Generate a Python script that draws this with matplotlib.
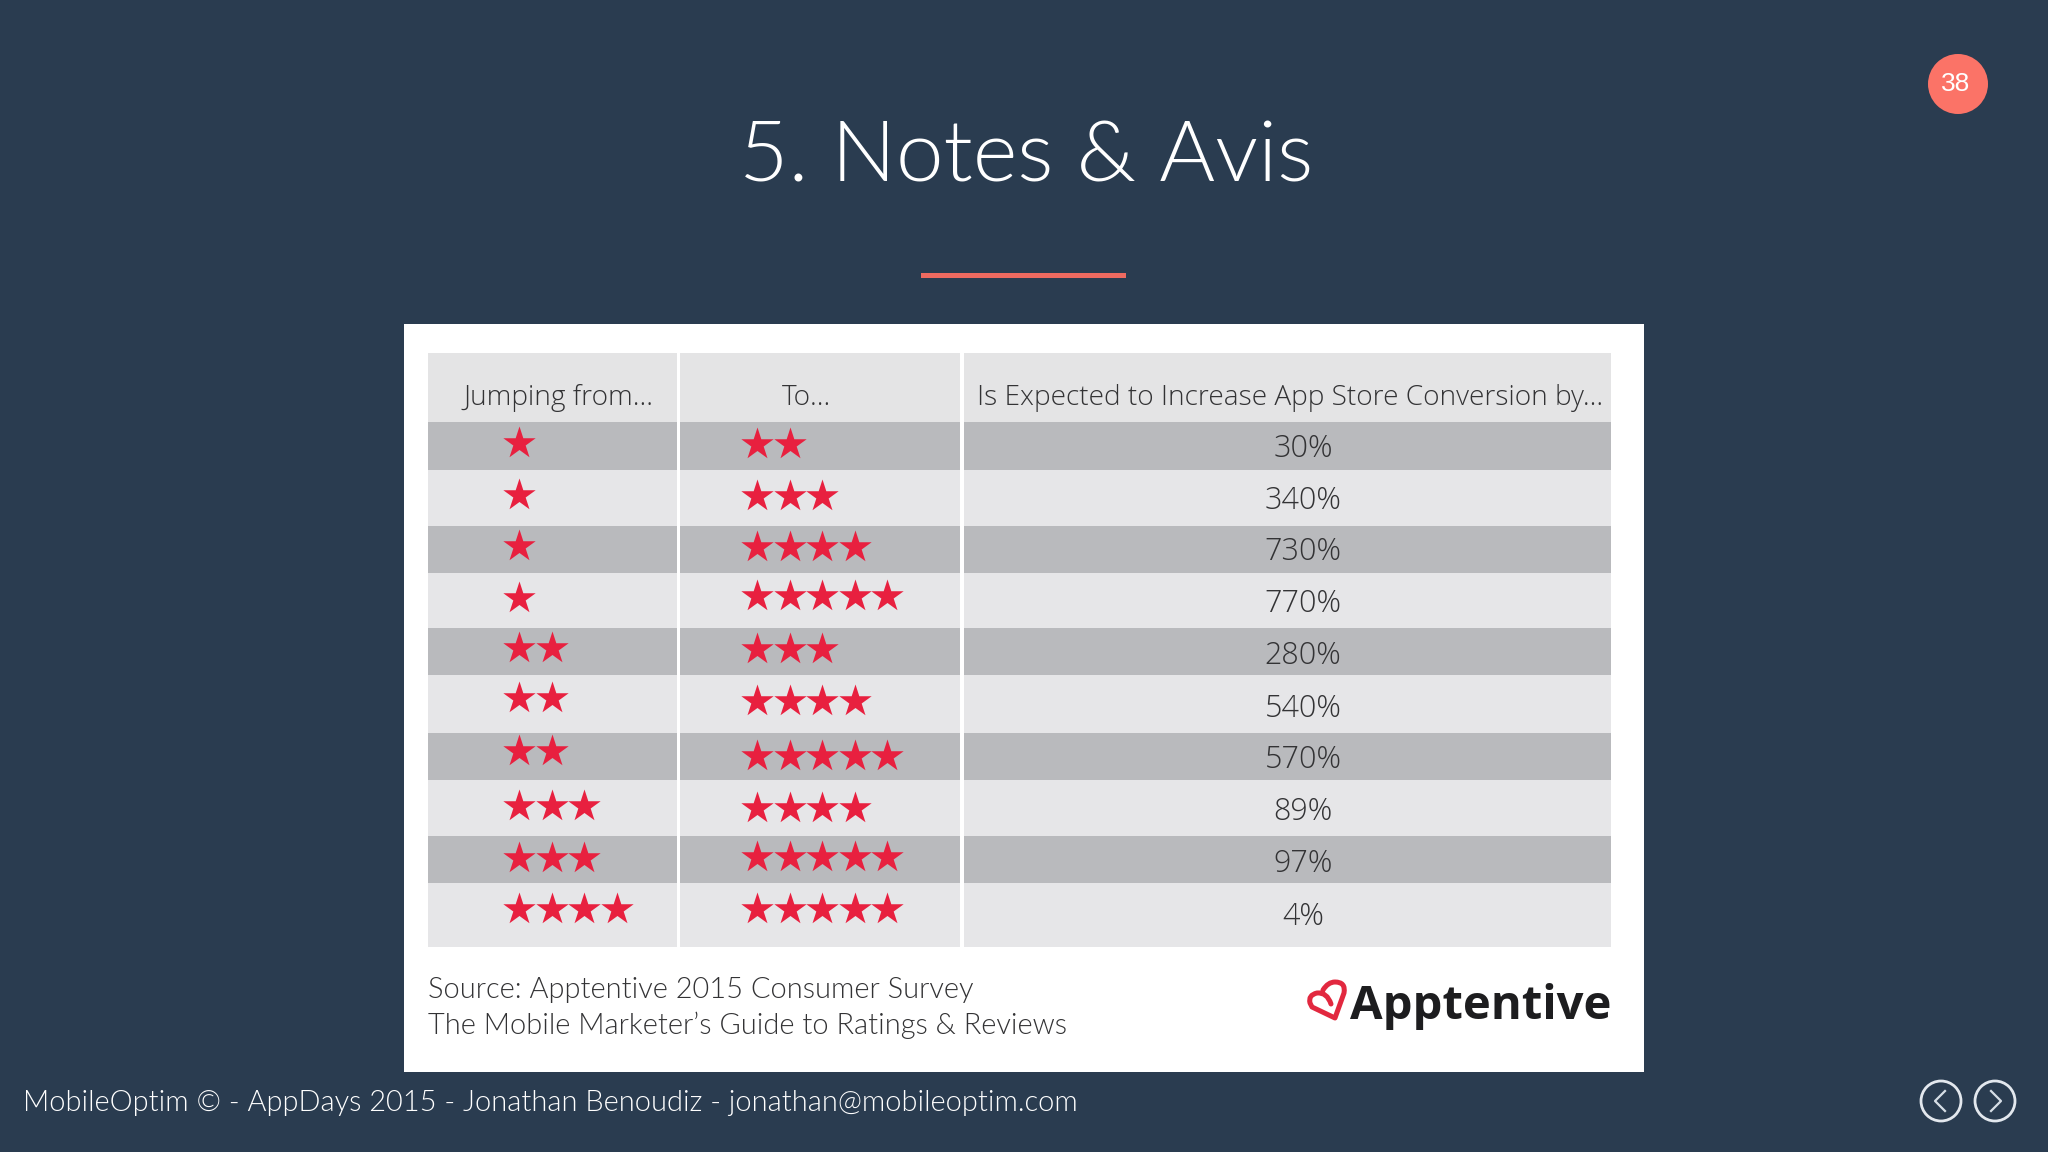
import matplotlib
matplotlib.use('Agg')
import matplotlib.pyplot as plt
from matplotlib import font_manager as fm
from matplotlib.patches import Rectangle, Circle, PathPatch
from matplotlib.path import Path

# table content
HEADERS = ['Jumping from...', 'To...', 'Is Expected to Increase App Store Conversion by...']
from_stars = [1, 1, 1, 1, 2, 2, 2, 3, 3, 4]
to_stars = [2, 3, 4, 5, 3, 4, 5, 4, 5, 5]
increase = ['30%', '340%', '730%', '770%', '280%', '540%', '570%', '89%', '97%', '4%']

TITLE = '5. Notes & Avis'
SOURCE_LINES = ['Source: Apptentive 2015 Consumer Survey',
                'The Mobile Marketer\u2019s Guide to Ratings & Reviews']
FOOTER = 'MobileOptim \u00a9 - AppDays 2015 - Jonathan Benoudiz - jonathan@mobileoptim.com'
PAGE = '38'

# layout, in pixels of the 2048x1152 slide
BG = '#2a3c50'
CORAL = '#fb7367'
RED = '#e8203f'
DARK_ROW = '#b9babd'
LIGHT_ROW = '#e6e6e8'
TEXT = '#333335'

COLS = [(428, 677), (680, 960), (964, 1611)]
ROW_EDGES = [422, 470, 526, 573, 628, 675, 733, 780, 836, 883, 947]
FROM_Y = [443, 495, 546, 598, 648, 698, 751, 806, 858, 909]
TO_Y = [444, 496, 547, 596, 649, 701, 756, 808, 857, 909]
PCT_Y = [449, 501, 552, 604, 656, 709, 760, 812, 864, 917]


def lato(style):
    # plain weight='light' ends up on the hairline cut, so look the file up
    for f in fm.fontManager.ttflist:
        if f.fname.endswith(f'Lato-{style}.ttf'):
            return fm.FontProperties(fname=f.fname)
    return fm.FontProperties(family='Lato')


fig = plt.figure(figsize=(20.48, 11.52), dpi=100, facecolor=BG)
ax = fig.add_axes([0, 0, 1, 1])
ax.set_xlim(0, 2048)
ax.set_ylim(1152, 0)
ax.axis('off')

light = lato('Light')

# title and rule
ax.text(1026, 158, TITLE, color='white', fontproperties=light, fontsize=61.5,
        ha='center', va='center')
ax.add_patch(Rectangle((921, 273), 205, 5, color='#ee6a60', lw=0))

# page badge
ax.add_patch(Circle((1958, 84), 30, color=CORAL, lw=0))
ax.text(1956, 84, PAGE, color='white', fontsize=19, family='Liberation Sans',
        ha='center', va='center')

# white card
ax.add_patch(Rectangle((404, 324), 1240, 748, color='white', lw=0))

# header band
for x0, x1 in COLS:
    ax.add_patch(Rectangle((x0, 353), x1 - x0, 69, color='#e4e4e5', lw=0))
ax.text(558, 398, HEADERS[0], color=TEXT, fontsize=20.2, family='Open Sans', weight='light',
        ha='center', va='center')
ax.text(806, 398, HEADERS[1], color=TEXT, fontsize=20.2, family='Open Sans', weight='light',
        ha='center', va='center')
ax.text(1290, 398, HEADERS[2], color=TEXT, fontsize=20.2, family='Open Sans', weight='light',
        ha='center', va='center')

# rows
for i in range(len(increase)):
    color = DARK_ROW if i % 2 == 0 else LIGHT_ROW
    for x0, x1 in COLS:
        ax.add_patch(Rectangle((x0, ROW_EDGES[i]), x1 - x0, ROW_EDGES[i + 1] - ROW_EDGES[i],
                               color=color, lw=0))
    from_x = [519 + 32.5 * k for k in range(from_stars[i])]
    to_x = [757 + 32.5 * k for k in range(to_stars[i])]
    ax.scatter(from_x, [FROM_Y[i]] * len(from_x), marker='*', s=600, color=RED, lw=0, zorder=3)
    ax.scatter(to_x, [TO_Y[i]] * len(to_x), marker='*', s=600, color=RED, lw=0, zorder=3)
    ax.text(1303, PCT_Y[i], increase[i], color=TEXT, fontsize=22, family='Open Sans',
            weight='light', ha='center', va='center')

# source note
ax.text(428, 990, SOURCE_LINES[0], color=TEXT, fontproperties=light, fontsize=20.9,
        ha='left', va='center')
ax.text(428, 1025, SOURCE_LINES[1], color=TEXT, fontproperties=light, fontsize=20.9,
        ha='left', va='center')

# logo: open heart outline with the inner hook, then the word
heart = Path([(1331, 1004), (1327, 992), (1317, 993), (1308, 995), (1310, 1003),
              (1312, 1007), (1335, 1018), (1344, 993), (1346, 982), (1335, 982),
              (1328, 982), (1323, 990)],
             [Path.MOVETO, Path.CURVE3, Path.CURVE3, Path.CURVE3, Path.CURVE3,
              Path.LINETO, Path.LINETO, Path.LINETO, Path.CURVE3, Path.CURVE3,
              Path.CURVE3, Path.CURVE3])
ax.add_patch(PathPatch(heart, fc='none', ec='#e2283f', lw=3.6, joinstyle='round', capstyle='round'))
ax.text(1611, 1006, 'Apptentive', color='#1d1d1f', fontsize=34, family='Open Sans',
        weight='bold', ha='right', va='center')

# footer
ax.text(23, 1103, FOOTER, color='white', fontproperties=light, fontsize=20.9,
        ha='left', va='center')

# nav buttons
for cx, sign in [(1941, -1), (1995, 1)]:
    ax.add_patch(Circle((cx, 1101), 20, fc='none', ec='#e3e8ee', lw=2))
    ax.plot([cx - 4 * sign, cx + 6 * sign, cx - 4 * sign], [1091, 1101, 1111],
            color='#d6dee6', lw=1.6)

fig.savefig('out.png', dpi=100, facecolor=BG)
